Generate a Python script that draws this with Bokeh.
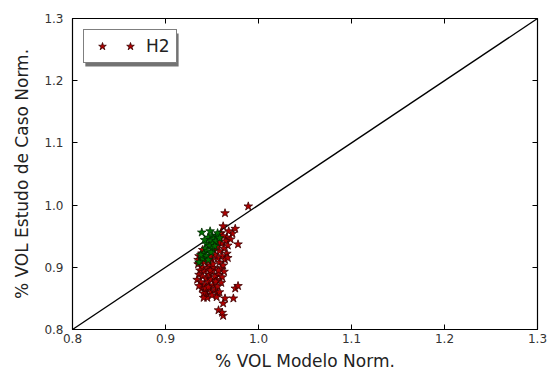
from bokeh.plotting import figure
from bokeh.models import (Range1d, LinearAxis, FixedTicker, NumeralTickFormatter,
                          Legend, LegendItem, BoxAnnotation)
from bokeh.core.properties import value
from bokeh.embed import file_html
from bokeh.resources import INLINE

# ---- data ----
tick_values = [0.8, 0.9, 1.0, 1.1, 1.2, 1.3]
identity_x = [0.8, 1.3]
identity_y = [0.8, 1.3]

h2_x = [0.989, 0.964, 0.962, 0.975, 0.972, 0.978, 0.968, 0.966, 0.970, 0.960,
        0.962, 0.965, 0.960, 0.967, 0.963, 0.958, 0.966, 0.961, 0.964, 0.958,
        0.962, 0.967, 0.956, 0.959, 0.963, 0.957, 0.961, 0.955, 0.960,
        0.935, 0.938, 0.940, 0.937, 0.942, 0.945, 0.948, 0.936, 0.940, 0.944,
        0.947, 0.950, 0.952, 0.934, 0.938, 0.942, 0.946, 0.949, 0.953, 0.939,
        0.943, 0.947, 0.951, 0.954, 0.936, 0.944, 0.949, 0.953, 0.956, 0.941,
        0.945,
        0.936, 0.939, 0.952, 0.955, 0.957, 0.954, 0.950, 0.944, 0.953, 0.948,
        0.935, 0.942,
        0.943, 0.946, 0.956, 0.975, 0.973, 0.964, 0.962, 0.957, 0.962, 0.961,
        0.941, 0.978,
        0.958, 0.955, 0.950, 0.948, 0.951, 0.957, 0.946, 0.940, 0.952]
h2_y = [0.998, 0.987, 0.966, 0.962, 0.954, 0.937, 0.958, 0.948, 0.945, 0.955,
        0.950, 0.942, 0.938, 0.935, 0.930, 0.926, 0.922, 0.918, 0.912, 0.908,
        0.903, 0.915, 0.915, 0.897, 0.893, 0.888, 0.884, 0.880, 0.875,
        0.905, 0.910, 0.900, 0.895, 0.893, 0.898, 0.903, 0.888, 0.885, 0.882,
        0.888, 0.893, 0.899, 0.880, 0.876, 0.872, 0.876, 0.880, 0.885, 0.866,
        0.862, 0.867, 0.871, 0.877, 0.870, 0.856, 0.860, 0.864, 0.869, 0.858,
        0.851,
        0.918, 0.922, 0.928, 0.933, 0.940, 0.945, 0.912, 0.915, 0.920, 0.918,
        0.912, 0.908,
        0.866, 0.868, 0.858, 0.866, 0.850, 0.850, 0.842, 0.831, 0.822, 0.827,
        0.851, 0.870,
        0.860, 0.852, 0.855, 0.895, 0.905, 0.895, 0.910, 0.928, 0.940]

other_x = [0.939, 0.950, 0.946, 0.952, 0.955, 0.948, 0.944, 0.951, 0.954, 0.947,
           0.943, 0.950, 0.953, 0.945, 0.941, 0.949, 0.944, 0.940, 0.946, 0.938,
           0.956, 0.958, 0.942, 0.936, 0.948]
other_y = [0.956, 0.951, 0.948, 0.946, 0.950, 0.942, 0.938, 0.938, 0.942, 0.934,
           0.930, 0.930, 0.934, 0.926, 0.922, 0.924, 0.918, 0.914, 0.912, 0.920,
           0.955, 0.947, 0.944, 0.908, 0.958]

legend_label = "H2"
x_label = "% VOL Modelo Norm."
y_label = "% VOL Estudo de Caso Norm."

FONT = "DejaVu Sans"

p = figure(width=548, height=376, output_backend="svg", toolbar_location=None,
           x_range=Range1d(0.8, 1.3), y_range=Range1d(0.8, 1.3),
           min_border_left=72, min_border_right=11, min_border_top=18,
           min_border_bottom=47)
p.grid.visible = False
p.outline_line_color = "black"
p.outline_line_width = 1.2
p.background_fill_color = "white"
p.border_fill_color = "white"

for ax in (p.xaxis[0], p.yaxis[0]):
    ax.ticker = FixedTicker(ticks=tick_values)
    ax.formatter = NumeralTickFormatter(format="0.0")
    ax.major_tick_in = 5
    ax.major_tick_out = 0
    ax.minor_tick_line_color = None
    ax.axis_line_color = None
    ax.major_tick_line_color = "black"
    ax.major_label_text_font = FONT
    ax.major_label_text_font_size = "12px"
    ax.major_label_text_color = "#333333"
    ax.axis_label_text_font = FONT
    ax.axis_label_text_font_size = "17px"
    ax.axis_label_text_font_style = "normal"
    ax.axis_label_text_color = "#222222"

p.xaxis.axis_label = x_label
p.yaxis.axis_label = y_label
p.xaxis.major_label_standoff = 4
p.yaxis.major_label_standoff = 9
p.xaxis.axis_label_standoff = 5
p.yaxis.axis_label_standoff = 9

for side in ("above", "right"):
    ax = LinearAxis(ticker=FixedTicker(ticks=tick_values))
    ax.major_tick_in = 5
    ax.major_tick_out = 0
    ax.minor_tick_line_color = None
    ax.axis_line_color = None
    ax.major_label_text_color = None
    ax.major_label_standoff = 0
    p.add_layout(ax, side)

p.line(identity_x, identity_y, line_color="black", line_width=1.3)

red = p.scatter(h2_x, h2_y, marker="star", size=9,
                fill_color="#b00000", line_color="#3a0000", line_width=0.8)
green = p.scatter(other_x, other_y, marker="star", size=9,
                  fill_color="#007000", line_color="#002800", line_width=0.8)

# legend shadow
shadow = BoxAnnotation(left=0.8138, right=0.9141, top=1.2760, bottom=1.2228,
                       fill_color="black", fill_alpha=0.55, line_color=None,
                       level="annotation")
p.add_layout(shadow)

legend = Legend(items=[LegendItem(label=value(""), renderers=[red]),
                       LegendItem(label=value(legend_label), renderers=[red])],
                location="top_left", orientation="horizontal",
                margin=11, padding=6, spacing=0, label_standoff=4,
                label_width=0, label_height=20, glyph_width=24, glyph_height=20,
                border_line_color="black", border_line_width=1.2,
                background_fill_color="white", background_fill_alpha=1.0,
                label_text_font=FONT, label_text_font_size="17px",
                label_text_color="#222222")
p.add_layout(legend)

open("out.html", "w").write(file_html(p, INLINE))
